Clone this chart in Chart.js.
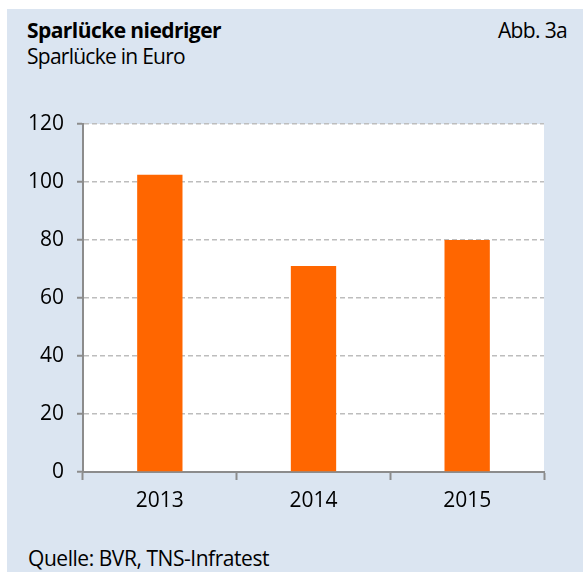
<!DOCTYPE html>
<html>
<head>
<meta charset="utf-8">
<script src="https://cdn.jsdelivr.net/npm/chart.js@4/dist/chart.umd.min.js"></script>
<style>
  html, body { margin: 0; padding: 0; background: #ffffff; }
  #wrap { position: relative; width: 583px; height: 572px; overflow: hidden; }
  #panel { position: absolute; left: 7px; top: 9px; width: 576px; height: 563px; background: #dbe5f1; }
  .txt { position: absolute; font-family: "Open Sans", sans-serif; font-size: 21px; line-height: 21px; color: #000; white-space: nowrap; }
  #title { left: 27px; top: 20px; font-weight: bold; }
  #subtitle { left: 27px; top: 46px; }
  #abb { top: 20px; }
  #source { left: 28px; top: 548px; }
  canvas { position: absolute; left: 0; top: 0; }
</style>
</head>
<body>
<div id="wrap">
  <div id="panel"></div>
  <div class="txt" id="title">Sparlücke niedriger</div>
  <div class="txt" id="subtitle">Sparlücke in Euro</div>
  <div class="txt" id="abb">Abb. 3a</div>
  <div class="txt" id="source">Quelle: BVR, TNS-Infratest</div>
  <canvas id="c" width="583" height="572"></canvas>
</div>
<script>
const categories = ["2013", "2014", "2015"];
const values = [102.5, 71, 80];
const yMin = 0;
const yMax = 120;
const yStep = 20;

// fit text widths to the reference
function fitWidth(id, target) {
  const el = document.getElementById(id);
  const n = el.textContent.length;
  const w = el.getBoundingClientRect().width;
  el.style.letterSpacing = ((target - w) / n) + "px";
}
fitWidth("title", 194);
fitWidth("subtitle", 158);
fitWidth("source", 241);
fitWidth("abb", 69);
(function () {
  const el = document.getElementById("abb");
  el.style.left = (567 - el.getBoundingClientRect().width) + "px";
})();

const FONT = "'Open Sans', sans-serif";
const axisColor = "#8c8c8c";

const plotBg = {
  id: "plotBg",
  beforeDraw(chart) {
    const { ctx, chartArea: a } = chart;
    ctx.save();
    ctx.fillStyle = "#ffffff";
    ctx.fillRect(a.left, a.top, a.right - a.left, a.bottom - a.top);
    ctx.restore();
  }
};

new Chart(document.getElementById("c"), {
  type: "bar",
  data: {
    labels: categories,
    datasets: [{
      data: values,
      backgroundColor: "#ff6600",
      borderWidth: 0,
      categoryPercentage: 1,
      barPercentage: 0.295
    }]
  },
  options: {
    responsive: false,
    animation: false,
    events: [],
    layout: { padding: { left: 0, right: 39, top: 124, bottom: 60 } },
    plugins: { legend: { display: false }, tooltip: { enabled: false }, title: { display: false } },
    scales: {
      x: {
        z: 1,
        grid: {
          display: true,
          offset: true,
          drawOnChartArea: false,
          drawTicks: true,
          tickLength: 8,
          tickColor: axisColor,
          tickWidth: 2
        },
        border: { display: true, color: axisColor, width: 2 },
        ticks: { color: "#000", font: { family: FONT, size: 21 }, padding: 8 },
        afterFit(s) { s.height = 40; }
      },
      y: {
        min: yMin,
        max: yMax,
        grid: {
          color: (c) => (c.tick && c.tick.value === 0 ? "rgba(0,0,0,0)" : "#bdbdbd"),
          lineWidth: 1.5,
          drawTicks: true,
          tickLength: 6,
          tickColor: axisColor,
          tickWidth: 2,
          tickBorderDash: []
        },
        border: { display: true, color: axisColor, width: 2, dash: [5, 3] },
        ticks: { stepSize: yStep, color: "#000", font: { family: FONT, size: 21 }, padding: 13 },
        afterFit(s) { s.width = 83; }
      }
    }
  },
  plugins: [plotBg]
});
</script>
</body>
</html>
